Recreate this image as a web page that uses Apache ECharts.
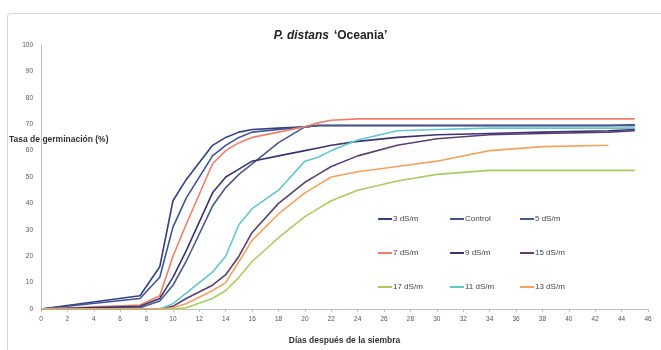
<!DOCTYPE html>
<html>
<head>
<meta charset="utf-8">
<script src="https://cdn.jsdelivr.net/npm/echarts@6/dist/echarts.min.js"></script>
<style>
html,body{margin:0;padding:0;background:#fff;}
#chart{width:661px;height:350px;}
</style>
</head>
<body>
<div id="chart"></div>
<script>
// Days after sowing (x values shared by all series)
const days = [0, 7.5, 9, 10, 11, 13, 14, 15, 16, 18, 20, 21, 22, 24, 27, 30, 34, 38, 43, 45];
// Germination rate (%) per treatment
const s3  = [0, 5, 16, 41, 49, 62, 65, 67, 68, 68.5, 69, 69.5, 69.5, 69.5, 69.5, 69.5, 69.5, 69.5, 69.5, 69.8];
const sCtrl = [0, 4, 12, 31, 42, 58, 62, 65, 67, 68, 69, 69.5, 69.5, 69.5, 69.5, 69.5, 69.5, 69.5, 69.5, 69.5];
const s5  = [0, 0.5, 3, 9, 18, 39, 46, 51, 55, 63, 69, 69.5, 69.5, 69.5, 69.5, 69.5, 69.5, 69.5, 69.5, 69.5];
const s7  = [0, 1.5, 5, 20, 32, 55, 60, 63, 65, 67, 69, 70.5, 71.5, 72, 72, 72, 72, 72, 72, 72];
const s9  = [0, 1, 4, 12, 22, 44, 50, 53, 56, 58, 60, 61, 62, 63.5, 65, 66, 66.5, 67, 67.5, 68];
const s15 = [0, 0, 0, 1, 4, 9, 13, 20, 29, 40, 48, 51, 54, 58, 62, 64.5, 66, 66.5, 67, 67.5];
const s17 = [0, 0, 0, 0, 0.5, 4, 7, 12, 18, 27, 35, 38, 41, 45, 48.5, 51, 52.5, 52.5, 52.5, 52.5];
const s11 = [0, 0, 0, 2, 6, 14, 20, 32, 38, 45, 56, 57.5, 60, 64, 67.5, 68, 68.5, 68.5, 68.5, 68.5];
const s13 = [0, 0, 0, 0.5, 2, 7, 10, 18, 26, 36, 44, 47, 50, 52, 54, 56, 60, 61.5, 62, null];
const names = ['3 dS/m', 'Control', '5 dS/m', '7 dS/m', '9 dS/m', '15 dS/m', '17 dS/m', '11 dS/m', '13 dS/m'];
const values = [s3, sCtrl, s5, s7, s9, s15, s17, s11, s13];
const colors = ['#34407f', '#3f5296', '#4b5a86', '#ef7f6b', '#3b3470', '#5b3f72', '#a9cc62', '#62c6cc', '#f4a25e'];
const xTicks = {min: 0, max: 46, interval: 2};
const yTicks = {min: 0, max: 100, interval: 10};

const chart = echarts.init(document.getElementById('chart'), null, {renderer: 'canvas'});
const series = names.map((n, i) => ({
  name: n,
  type: 'line',
  showSymbol: false,
  symbol: 'none',
  connectNulls: false,
  lineStyle: {width: 1.6, color: colors[i]},
  itemStyle: {color: colors[i]},
  data: days.map((d, j) => values[i][j] == null ? [d, null] : [d, values[i][j]])
}));
const legendBase = {
  orient: 'vertical', itemGap: 26, itemWidth: 14, itemHeight: 2, icon: 'rect',
  textStyle: {fontSize: 8, color: '#444', fontFamily: 'Liberation Sans', padding: [0, 0, 0, -4]}, padding: 0
};
const option = {
  animation: false,
  backgroundColor: '#fff',
  title: {
    text: '{i|P. distans} {b|‘Oceania’}',
    left: 'center', top: 22,
    textStyle: {rich: {
      i: {fontSize: 12, fontWeight: 'bold', fontStyle: 'italic', color: '#222', fontFamily: 'Liberation Sans'},
      b: {fontSize: 12, fontWeight: 'bold', color: '#222', fontFamily: 'Liberation Sans'}
    }}
  },
  grid: {left: 41, right: 13, top: 45, bottom: 31, containLabel: false},
  legend: [
    Object.assign({}, legendBase, {left: 378, top: 215, data: ['3 dS/m', '7 dS/m', '17 dS/m']}),
    Object.assign({}, legendBase, {left: 450, top: 215, data: ['Control', '9 dS/m', '11 dS/m']}),
    Object.assign({}, legendBase, {left: 520, top: 215, data: ['5 dS/m', '15 dS/m', '13 dS/m']})
  ],
  xAxis: {
    type: 'value', min: xTicks.min, max: xTicks.max, interval: xTicks.interval,
    name: 'Días después de la siembra', nameLocation: 'middle', nameGap: 27,
    nameTextStyle: {fontSize: 8.5, fontWeight: 'bold', color: '#333', fontFamily: 'Liberation Sans'},
    axisLine: {lineStyle: {color: '#bfbfbf'}},
    axisTick: {show: true, length: 3, lineStyle: {color: '#bfbfbf'}},
    axisLabel: {fontSize: 6.5, color: '#555', margin: 7, fontFamily: 'Liberation Sans'},
    splitLine: {show: false}
  },
  yAxis: {
    type: 'value', min: yTicks.min, max: yTicks.max, interval: yTicks.interval,
    axisLine: {show: true, lineStyle: {color: '#bfbfbf'}},
    axisTick: {show: false},
    axisLabel: {fontSize: 6.5, color: '#555', margin: 8, fontFamily: 'Liberation Sans'},
    splitLine: {show: false}
  },
  graphic: [
    {type: 'rect', left: 5, top: 11, shape: {width: 680, height: 360, r: 3}, style: {fill: 'none', stroke: '#d6d6d6', lineWidth: 1}, silent: true, z: -1},
    {type: 'text', left: 9, top: 135, style: {text: 'Tasa de germinación (%)', fontSize: 8.5, fontWeight: 'bold', fill: '#333', fontFamily: 'Liberation Sans'}, z: 10}
  ],
  series: series
};
chart.setOption(option);
</script>
</body>
</html>
